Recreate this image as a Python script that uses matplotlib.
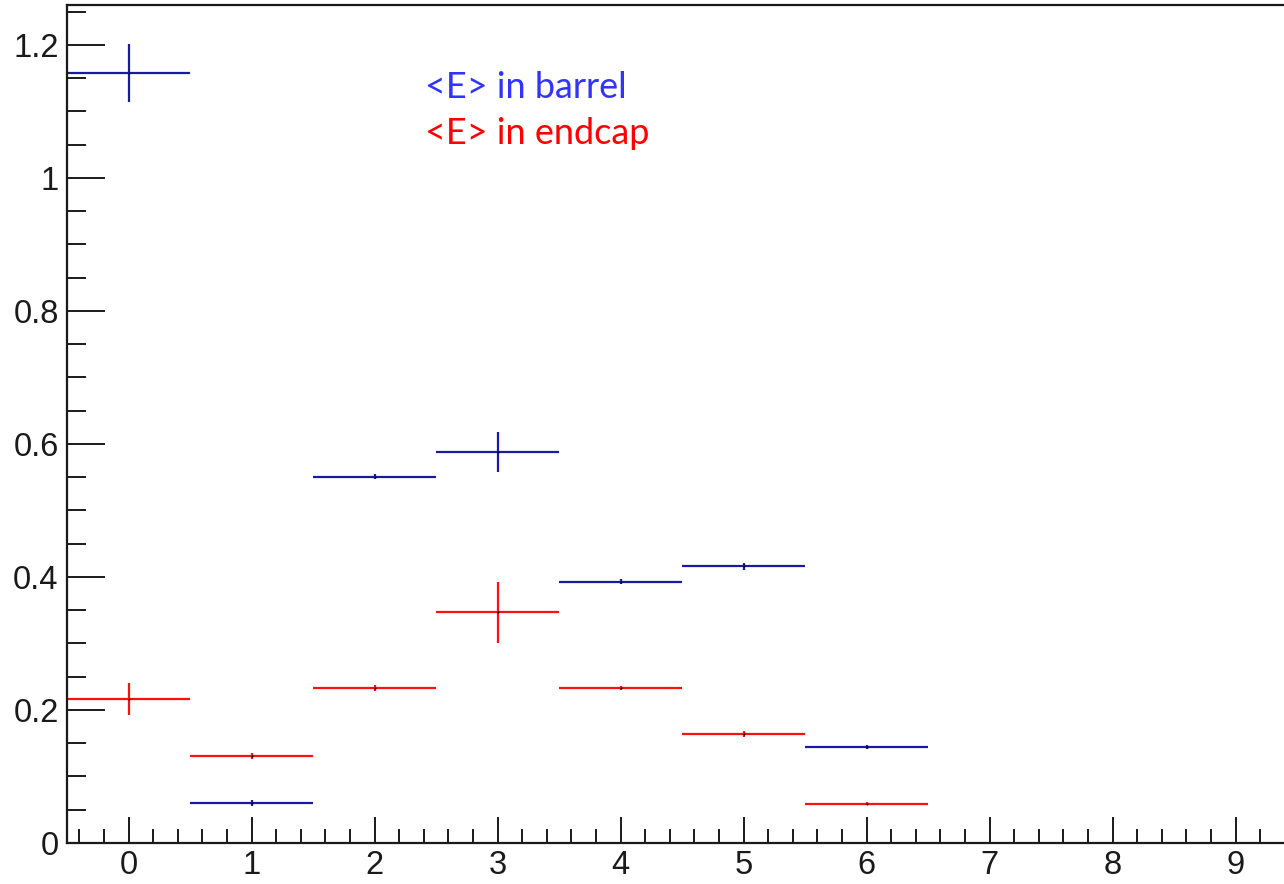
import matplotlib
matplotlib.use("Agg")
import matplotlib.pyplot as plt
from matplotlib.ticker import MultipleLocator

bins = [0, 1, 2, 3, 4, 5, 6]
barrel = [1.158, 0.060, 0.551, 0.588, 0.393, 0.416, 0.144]
barrel_err = [0.044, 0.004, 0.004, 0.030, 0.004, 0.005, 0.003]
endcap = [0.217, 0.131, 0.233, 0.347, 0.233, 0.164, 0.059]
endcap_err = [0.024, 0.004, 0.004, 0.046, 0.003, 0.004, 0.002]
bin_halfwidth = 0.5

fig = plt.figure(figsize=(12.84, 8.84), dpi=100)
ax = fig.add_axes([67/1284, 41/884, 1230/1284, 838/884])

ax.errorbar(bins, barrel, xerr=bin_halfwidth, yerr=barrel_err, fmt='none',
            ecolor='#1a1aa0', elinewidth=1.6, capsize=0)
ax.errorbar(bins, endcap, xerr=bin_halfwidth, yerr=endcap_err, fmt='none',
            ecolor='#ff1010', elinewidth=1.6, capsize=0)
ax.scatter(bins, barrel, s=2, color='black', zorder=3, linewidths=0)
ax.scatter(bins, endcap, s=2, color='black', zorder=3, linewidths=0)

ax.set_xlim(-0.5, 9.5)
ax.set_ylim(0, 1.26)
ax.xaxis.set_major_locator(MultipleLocator(1))
ax.xaxis.set_minor_locator(MultipleLocator(0.2))
ax.yaxis.set_major_locator(MultipleLocator(0.2))
ax.yaxis.set_minor_locator(MultipleLocator(0.05))
ax.set_yticks([0, 0.2, 0.4, 0.6, 0.8, 1.0, 1.2])
ax.set_yticklabels(['0', '0.2', '0.4', '0.6', '0.8', '1', '1.2'])

for s in ['left', 'bottom', 'top']:
    ax.spines[s].set_linewidth(1.6)
    ax.spines[s].set_color('#1a1a1a')
ax.spines['right'].set_visible(False)

ax.tick_params(axis='x', which='major', direction='in', length=19, width=1.4,
               labelsize=23.5, pad=5, top=False, colors='#1a1a1a')
ax.tick_params(axis='x', which='minor', direction='in', length=10, width=1.4, top=False,
               colors='#1a1a1a')
ax.tick_params(axis='y', which='major', direction='in', length=27, width=1.4,
               labelsize=23.5, pad=6, right=False, colors='#1a1a1a')
ax.tick_params(axis='y', which='minor', direction='in', length=14, width=1.4, right=False,
               colors='#1a1a1a')
for lab in ax.get_xticklabels() + ax.get_yticklabels():
    lab.set_fontfamily('Liberation Sans')

fig.text(425/1284, 1 - 87/884, '<E> in barrel', color='#3333ff', fontsize=26,
         family='Lato', va='center', ha='left')
fig.text(425/1284, 1 - 133/884, '<E> in endcap', color='#ff0000', fontsize=26,
         family='Lato', va='center', ha='left')

fig.savefig('out.png', dpi=100)
